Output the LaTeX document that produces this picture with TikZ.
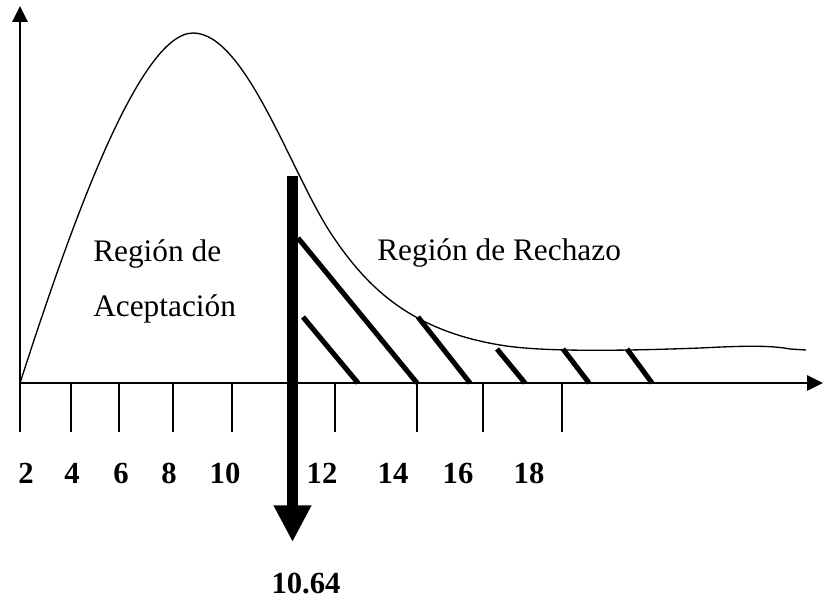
\documentclass[tikz,border=0pt]{standalone}
\usepackage{fontspec}
\setmainfont{Liberation Serif}
\usetikzlibrary{arrows.meta}
\begin{document}
\begin{tikzpicture}[x=0.75pt,y=-0.75pt,
  axisline/.style={line width=1.5pt},
  tickline/.style={line width=1.1pt},
  hatchline/.style={line width=3.8pt},
  lbl/.style={inner sep=0pt,anchor=base,font=\fontsize{23}{26}\selectfont\bfseries},
  txt/.style={inner sep=0pt,anchor=base west,font=\fontsize{23.5}{28}\selectfont}]
\useasboundingbox (0,0) rectangle (824,598);
% axes
\coordinate (O) at (20,383);
\coordinate (Ytop) at (20,6);
\coordinate (Xend) at (823,383);
\draw[axisline,-{Triangle[length=12pt,width=11.5pt]}] (O) -- (Ytop);
\draw[axisline,-{Triangle[length=12pt,width=11.5pt]}] (O) -- (Xend);
% ticks
\foreach \x in {20,71,119,173,232,335,417,483,562}{
  \coordinate (t\x) at (\x,383);
  \coordinate (b\x) at (\x,432);
  \draw[tickline] (t\x) -- (b\x);
}
% tick labels
\foreach \x/\t in {26/2,72/4,121/6,169/8,225/10,322/12,393/14,458/16,529/18}{
  \node[lbl] (l\t) at (\x,483) {\t};
}
% curve
\coordinate (c0) at (20,383);
\coordinate (c1) at (193,33);
\coordinate (c2) at (330,232);
\coordinate (c3) at (500,345);
\coordinate (c4) at (700,348);
\coordinate (c5) at (790,349);
\coordinate (c6) at (806,350);
\draw[line width=1pt,line join=round] (c0) .. controls (60,260) and (135,33) .. (c1)
  .. controls (245,33) and (290,170) .. (c2)
  .. controls (366,287) and (410,330) .. (c3)
  .. controls (540,352) and (620,351) .. (c4)
  .. controls (740,346) and (770,345) .. (c5) -- (c6);
% hatch lines
\draw[hatchline] (298,238) -- (417,383);
\draw[hatchline] (303,317) -- (358,383);
\draw[hatchline] (418,317) -- (470,383);
\draw[hatchline] (497,349) -- (525,383);
\draw[hatchline] (563,349) -- (589,383);
\draw[hatchline] (627,349) -- (652,383);
% critical value bar
\coordinate (Btop) at (292.5,176);
\coordinate (Bend) at (292.5,542);
\draw[line width=8.3pt,-{Triangle[length=27.5pt,width=26.5pt]}] (Btop) -- (Bend);
\node[lbl] (crit) at (306,593) {10.64};
% region texts
\node[txt] (acc1) at (93,262) {Región de};
\node[txt] (acc2) at (93,317) {Aceptación};
\node[txt] (rej) at (377,261) {Región de Rechazo};
\end{tikzpicture}
\end{document}
